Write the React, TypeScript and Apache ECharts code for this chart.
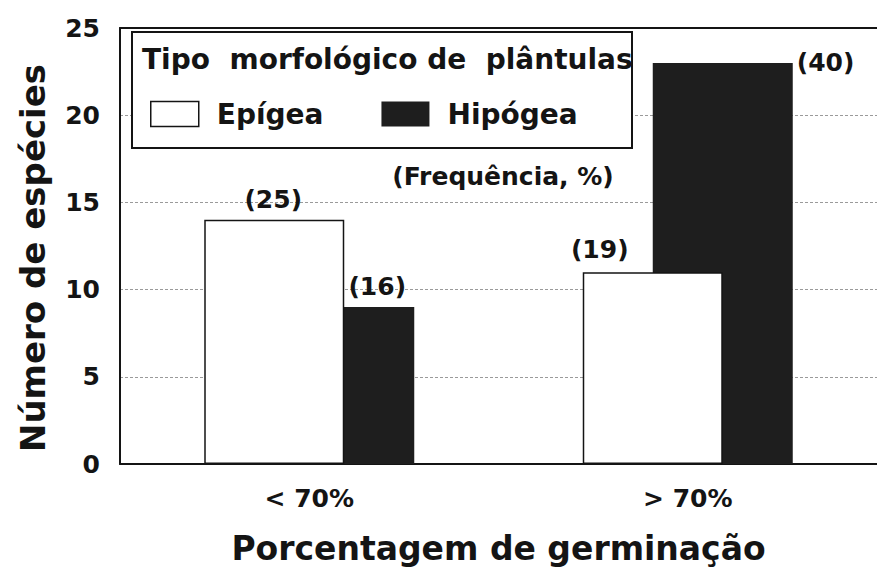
import React, { useEffect, useRef } from 'react';
import * as echarts from 'echarts';

const categories = ['< 70%', '> 70%'];
const seriesNames = ['Epígea', 'Hipógea'];
const epigeaValues = [14, 11];
const hipogeaValues = [9, 23];
const epigeaFreq = [25, 19];
const hipogeaFreq = [16, 40];
const yMin = 0;
const yMax = 25;
const yInterval = 5;
const legendTitle = 'Tipo  morfológico de  plântulas';
const freqNote = '(Frequência, %)';
const yName = 'Número de espécies';
const xName = 'Porcentagem de germinação';

const FONT = '"DejaVu Sans", "Liberation Sans", sans-serif';
const INK = '#141414';

export default function App() {
  const ref = useRef<HTMLDivElement>(null);

  useEffect(() => {
    if (!ref.current) return;
    const chart = echarts.init(ref.current, undefined, { renderer: 'svg' });

    const labelBase = {
      show: true,
      fontFamily: FONT,
      fontWeight: 'bold' as const,
      fontSize: 25,
      color: INK,
    };
    const epigeaLabelOffsets = [[-1, -3], [-53, -5]];
    const hipogeaLabels = [
      { position: 'top', offset: [33, -3] },
      { position: ['100%', 0], align: 'left', verticalAlign: 'middle', offset: [4, 0] },
    ];
    const axisLineStyle = { show: true, lineStyle: { color: INK, width: 2 } };

    const option: any = {
      animation: false,
      backgroundColor: '#ffffff',
      grid: {
        left: 120,
        right: -3,
        top: 28,
        bottom: 105,
      },
      legend: {
        data: [
          { name: seriesNames[0], itemStyle: { color: '#ffffff', borderColor: INK, borderWidth: 1.5 } },
          { name: seriesNames[1], itemStyle: { color: '#1e1e1e' } },
        ],
        left: 145,
        top: 95,
        itemWidth: 48,
        itemHeight: 25,
        itemGap: 58,
        icon: 'rect',
        z: 10,
        selectedMode: false,
        textStyle: {
          fontFamily: FONT,
          fontWeight: 'bold',
          fontSize: 28,
          color: INK,
          padding: [0, 0, 0, 13],
        },
      },
      xAxis: [
        {
          type: 'category',
          data: categories,
          axisLine: axisLineStyle,
          axisTick: { show: false },
          axisLabel: {
            fontFamily: FONT,
            fontWeight: 'bold',
            fontSize: 25,
            color: INK,
            margin: 22,
          },
          name: xName,
          nameLocation: 'middle',
          nameGap: 68,
          nameTextStyle: {
            fontFamily: FONT,
            fontWeight: 'bold',
            fontSize: 33,
            color: INK,
          },
        },
        {
          type: 'category',
          data: categories,
          position: 'top',
          axisLine: axisLineStyle,
          axisTick: { show: false },
          axisLabel: { show: false },
          splitLine: { show: false },
        },
      ],
      yAxis: {
        type: 'value',
        min: yMin,
        max: yMax,
        interval: yInterval,
        axisLine: axisLineStyle,
        axisTick: { show: false },
        axisLabel: {
          fontFamily: FONT,
          fontWeight: 'bold',
          fontSize: 25,
          color: INK,
          margin: 20,
        },
        splitLine: {
          show: true,
          showMinLine: false,
          showMaxLine: false,
          lineStyle: { color: '#9a9a9a', width: 1, type: [3, 2] },
        },
        name: yName,
        nameLocation: 'middle',
        nameGap: 70,
        nameTextStyle: {
          fontFamily: FONT,
          fontWeight: 'bold',
          fontSize: 34,
          color: INK,
          padding: [0, 24, 0, 0],
        },
      },
      series: [
        {
          name: seriesNames[0],
          type: 'bar',
          xAxisIndex: 0,
          z: 3,
          barWidth: 140,
          barGap: '-50%',
          itemStyle: { color: '#ffffff', borderColor: INK, borderWidth: 1.5 },
          label: {
            ...labelBase,
            position: 'top',
            distance: 5,
            formatter: (p: any) => `(${epigeaFreq[p.dataIndex]})`,
          },
          data: epigeaValues.map((v, i) => ({ value: v, label: { offset: epigeaLabelOffsets[i] } })),
        },
        {
          name: seriesNames[1],
          type: 'bar',
          xAxisIndex: 0,
          z: 2,
          barWidth: 140,
          barGap: '-50%',
          itemStyle: { color: '#1e1e1e' },
          label: {
            ...labelBase,
            distance: 5,
            formatter: (p: any) => `(${hipogeaFreq[p.dataIndex]})`,
          },
          data: hipogeaValues.map((v, i) => ({ value: v, label: hipogeaLabels[i] })),
        },
      ],
      graphic: [
        {
          type: 'rect',
          z: 5,
          shape: { x: 132, y: 32, width: 500, height: 116 },
          style: { fill: '#ffffff', stroke: INK, lineWidth: 2 },
        },
        {
          type: 'text',
          z: 11,
          x: 142,
          y: 59,
          style: {
            text: legendTitle,
            fontFamily: FONT,
            fontWeight: 'bold',
            fontSize: 28,
            fill: INK,
            textAlign: 'left',
            textVerticalAlign: 'middle',
          },
        },
        {
          type: 'text',
          z: 11,
          x: 503,
          y: 176,
          style: {
            text: freqNote,
            fontFamily: FONT,
            fontWeight: 'bold',
            fontSize: 25,
            fill: INK,
            textAlign: 'center',
            textVerticalAlign: 'middle',
          },
        },
      ],
    };

    chart.setOption(option);
    return () => chart.dispose();
  }, []);

  return (
    <div
      ref={ref}
      style={{ position: 'fixed', left: 0, top: 0, width: 877, height: 570, background: '#fff' }}
    />
  );
}
